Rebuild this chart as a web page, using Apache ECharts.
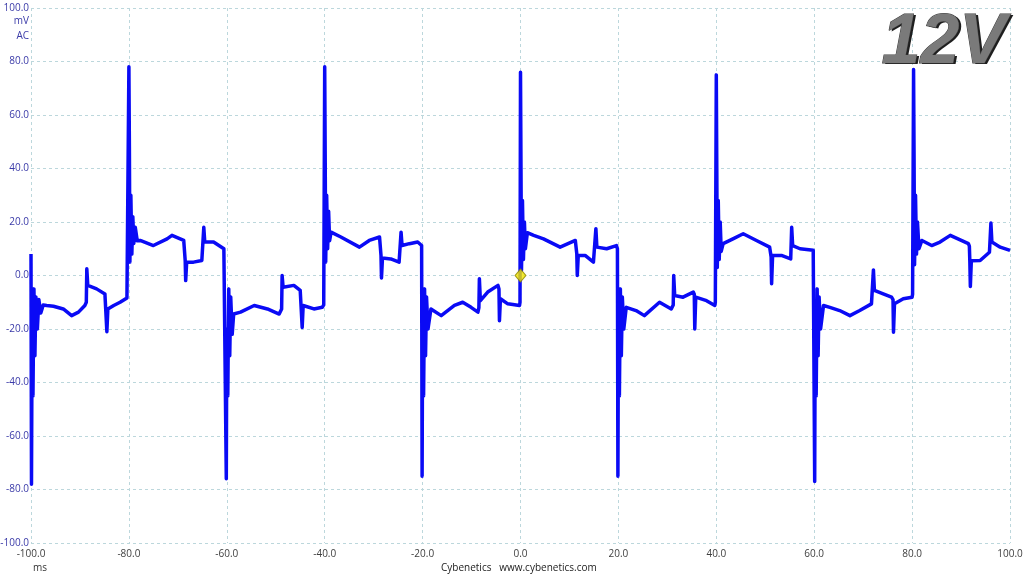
<!DOCTYPE html>
<html>
<head>
<meta charset="utf-8">
<script src="https://cdn.jsdelivr.net/npm/echarts@6/dist/echarts.min.js"></script>
<style>
  html, body { margin: 0; padding: 0; background: #fff; }
  #chart { width: 1024px; height: 576px; }
</style>
</head>
<body>
<div id="chart"></div>
<script>
const periodA = [
  [-100, 8], [-99.9, -78], [-99.8, -30], [-99.6, -45], [-99.4, -5], [-99.2, -30], [-99.0, -8],
  [-98.7, -20], [-98.4, -9], [-98.0, -14], [-97.5, -11], [-96.8, -11.2], [-95.4, -11.5],
  [-93.4, -12.5], [-91.7, -15], [-90.3, -13.7], [-89.0, -11.2], [-88.7, -10], [-88.6, 2.5],
  [-88.4, -3.7], [-86.6, -5], [-84.9, -6.9], [-84.6, -7.5], [-84.5, -21], [-84.3, -12.5],
  [-83.1, -11.2], [-81.8, -10], [-80.4, -8.4], [-80.2, -8], [-80.0, 78], [-79.9, 48],
  [-79.8, 5], [-79.6, 30], [-79.4, 8], [-79.2, 22], [-79.0, 12], [-78.7, 18], [-78.3, 13],
  [-77.7, 13.1], [-75.0, 11.2], [-72.2, 13.7], [-71.2, 15], [-68.8, 13.1], [-68.6, 12.5],
  [-68.5, 5.6], [-68.4, -1.9], [-68.2, 5], [-66.8, 5], [-65.1, 5.6], [-64.8, 6], [-64.7, 18],
  [-64.5, 12.5], [-62.7, 12.5], [-60.6, 10]
];
const periodB = [
  [-60.2, 9.5], [-60.1, -76], [-60.0, -20], [-59.8, -45], [-59.6, -5], [-59.4, -30],
  [-59.2, -8], [-58.9, -22], [-58.6, -14.4], [-57.2, -13.7], [-54.4, -11.2], [-51.7, -12.5],
  [-49.3, -14.4], [-48.8, -12.5], [-48.7, 0], [-48.5, -4.4], [-46.3, -3.7], [-45.0, -5.6],
  [-44.7, -6], [-44.6, -19.4], [-44.4, -11.2], [-42.2, -12.5], [-40.5, -11.9], [-40.2, -11],
  [-40.0, 78], [-39.9, 45], [-39.8, 5], [-39.6, 30], [-39.4, 10], [-39.2, 24], [-39.0, 13],
  [-38.7, 16.2], [-36.7, 14.4], [-32.9, 10.6], [-30.9, 13.1], [-28.8, 14.4], [-28.6, 14],
  [-28.5, 7.5], [-28.4, -0.9], [-28.2, 6.5], [-26.5, 6.2], [-24.8, 5], [-24.5, 5.5],
  [-24.4, 16.2], [-24.2, 11.2], [-22.7, 11.9], [-21.0, 12.5], [-20.2, 11.2]
];
const periodC = [
  [-20.1, -75], [-20.0, -20], [-19.8, -45], [-19.6, -5], [-19.4, -30], [-19.2, -8],
  [-18.9, -20], [-18.3, -12.5], [-16.2, -15], [-13.5, -11.2], [-11.8, -10], [-10.1, -11.9],
  [-8.7, -13.7], [-8.5, -12], [-8.4, -1.2], [-8.2, -9.4], [-6.7, -6.2], [-4.6, -3.7],
  [-4.4, -5], [-4.3, -16.9], [-4.1, -8.7], [-2.6, -10.6], [-0.2, -11.2], [-0.1, -10],
  [0.0, 76], [0.1, 40], [0.2, 2], [0.4, 28], [0.6, 6], [0.8, 20], [1.0, 10], [1.4, 16],
  [2.7, 15], [4.7, 13.7], [8.1, 10.6], [11.2, 13.1], [11.4, 12.5], [11.5, 8.1], [11.6, 0],
  [11.8, 7.5], [13.2, 7.5], [14.9, 5], [15.3, 5.5], [15.4, 17.5], [15.6, 10.6], [17.6, 10],
  [19.6, 11.2]
];
const periodD = [
  [19.8, 10], [19.9, -75], [20.0, -20], [20.2, -45], [20.4, -5], [20.6, -30], [20.8, -8],
  [21.1, -20], [21.6, -11.9], [23.6, -13.1], [25.3, -15], [28.4, -10], [30.8, -12.5],
  [31.2, -11], [31.3, 0], [31.5, -7.5], [33.2, -8.1], [35.3, -6.2], [35.5, -7], [35.6, -20],
  [35.8, -8.1], [38.0, -9.4], [39.7, -11.2], [39.8, -10], [40.0, 75], [40.1, 40], [40.2, 3],
  [40.4, 28], [40.6, 6], [40.8, 20], [41.0, 9], [41.4, 11.9], [43.4, 13.7], [45.5, 15.6],
  [48.2, 13.1], [50.9, 10.6], [51.1, 10], [51.2, 6.9], [51.3, -3.1], [51.5, 7.5], [53.3, 7.5],
  [55.2, 6.2], [55.3, 6.5], [55.4, 18], [55.6, 11.2], [57.1, 10], [59.8, 9.4]
];
const periodE = [
  [60.0, 8.7], [60.1, -77], [60.2, -20], [60.4, -45], [60.6, -5], [60.8, -30], [61.0, -8],
  [61.3, -20], [61.9, -11.2], [63.2, -11.9], [65.2, -13.1], [67.3, -15], [69.3, -13.1],
  [71.7, -10.6], [72.0, -10], [72.1, 2.1], [72.3, -5.6], [74.1, -6.9], [75.8, -8.1],
  [76.1, -9], [76.2, -21.2], [76.4, -10.6], [78.2, -8.7], [80.0, -8.1], [80.1, -7],
  [80.3, 77], [80.4, 45], [80.5, 4], [80.7, 30], [80.9, 8], [81.1, 20], [81.4, 10],
  [82.0, 13.1], [84.0, 11.2], [85.7, 12.5], [87.8, 15], [91.5, 11.9], [91.7, 11], [91.8, 5],
  [91.9, -4.1], [92.1, 5.5], [93.9, 5.6], [95.8, 8.7], [96.0, 9], [96.1, 19.6], [96.3, 12.5],
  [98.0, 10.6], [100, 9.4]
];
const triggerPoint = [[0, 0]];

const trace = periodA.concat(periodB, periodC, periodD, periodE);

const chart = echarts.init(document.getElementById('chart'));

const gridLine = { show: true, lineStyle: { color: '#bcd7dc', type: [3, 3], width: 1 } };
const labelFont = { fontFamily: 'Open Sans', fontSize: 10 };
const railFont = 'italic bold 70px "Liberation Sans"';

chart.setOption({
  animation: false,
  backgroundColor: '#ffffff',
  grid: { left: 31, right: 14, top: 8, bottom: 33, containLabel: false, outerBoundsMode: 'none' },
  xAxis: {
    type: 'value',
    min: -100,
    max: 100,
    interval: 20,
    axisLine: { show: false },
    axisTick: { show: false },
    splitLine: gridLine,
    axisLabel: Object.assign({ color: '#404040', margin: 6, formatter: v => v.toFixed(1) }, labelFont)
  },
  yAxis: {
    type: 'value',
    min: -100,
    max: 100,
    interval: 20,
    axisLine: { show: false },
    axisTick: { show: false },
    splitLine: gridLine,
    axisLabel: Object.assign({ color: '#3a3aa8', margin: 2, formatter: v => v.toFixed(1) }, labelFont)
  },
  series: [
    {
      type: 'line',
      data: trace,
      showSymbol: false,
      sampling: false,
      lineStyle: { color: '#0a0af5', width: 3.5, join: 'round' },
      z: 2
    },
    {
      type: 'scatter',
      data: triggerPoint,
      symbol: 'diamond',
      symbolSize: [11, 13],
      itemStyle: { color: '#f2e600', borderColor: '#8c8400', borderWidth: 1 },
      z: 3
    }
  ],
  graphic: [
    { type: 'text', right: 995, top: 16, style: { text: 'mV', fill: '#3a3aa8', font: '10px "Open Sans"' } },
    { type: 'text', right: 995, top: 31, style: { text: 'AC', fill: '#3a3aa8', font: '10px "Open Sans"' } },
    { type: 'text', left: 33, top: 563, style: { text: 'ms', fill: '#333', font: '10px "Open Sans"' } },
    {
      type: 'text', left: 441, top: 563,
      style: { text: 'Cybenetics   www.cybenetics.com', fill: '#222', font: '10px "Open Sans"' }
    },
    // dark drop copy behind for the embossed look
    {
      type: 'text', left: 884, top: 10, z: 10,
      style: { text: '12V', font: railFont, fill: '#1e1e1e' }
    },
    {
      type: 'text', left: 881, top: 8, z: 11,
      style: { text: '12V', font: railFont, fill: '#7a7a7a', stroke: '#3a3a3a', lineWidth: 1 }
    }
  ]
});
</script>
</body>
</html>
